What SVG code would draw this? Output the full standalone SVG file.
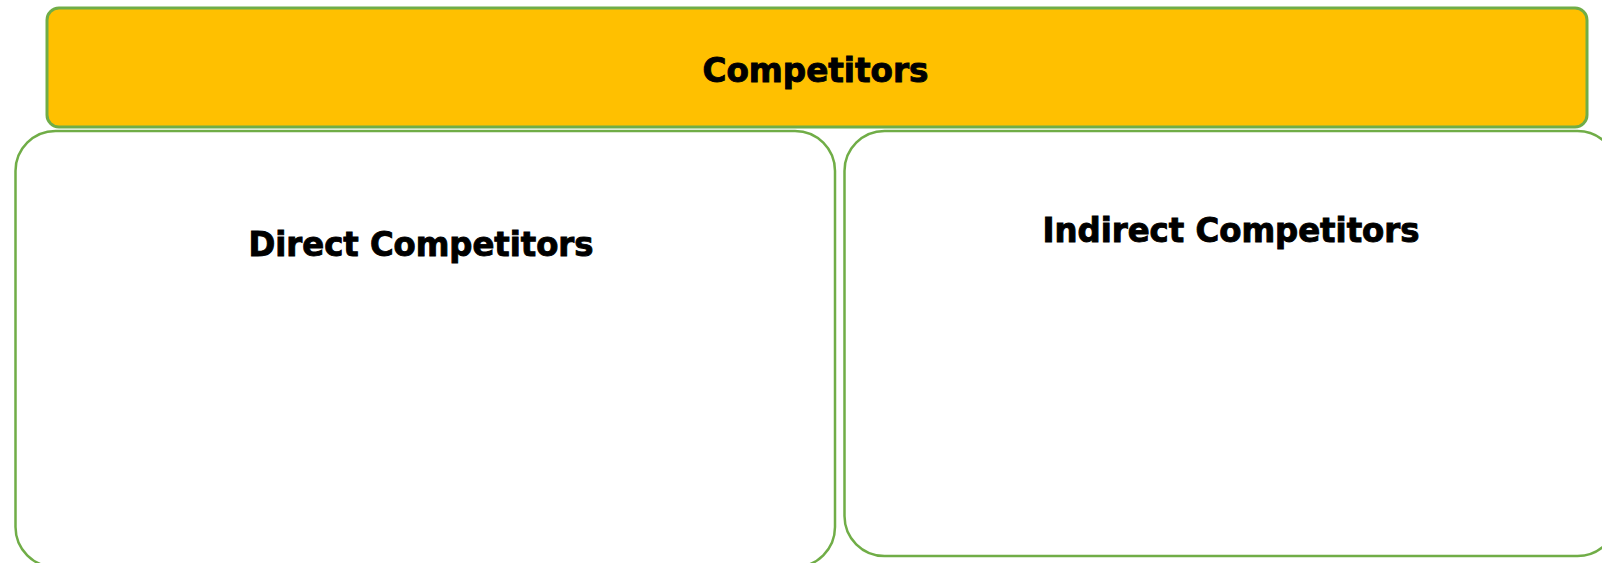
<svg xmlns="http://www.w3.org/2000/svg" width="1602" height="563" viewBox="0 0 1602 563">
<style>
.box{fill:#FFFFFF;stroke:#70AD47;stroke-width:2.5}
.top{fill:#FFC000;stroke:#70AD47;stroke-width:3}
.lbl{font-family:"DejaVu Sans Condensed","DejaVu Sans",Tahoma,sans-serif;font-weight:bold;font-size:34px;fill:#000000;stroke:#000000;stroke-width:0.9}
</style>
<rect width="1602" height="563" fill="#FFFFFF"/>
<g id="direct">
<rect class="box" x="15.5" y="131" width="819.5" height="436" rx="40" ry="40"/>
<text class="lbl" x="421" y="256" text-anchor="middle" textLength="345" lengthAdjust="spacingAndGlyphs">Direct Competitors</text>
</g>
<g id="indirect">
<rect class="box" x="844.5" y="131" width="773" height="425" rx="40" ry="40"/>
<text class="lbl" x="1231" y="242" text-anchor="middle" textLength="377" lengthAdjust="spacingAndGlyphs">Indirect Competitors</text>
</g>
<g id="competitors">
<rect class="top" x="47" y="8" width="1540" height="119" rx="12" ry="12"/>
<text class="lbl" x="815.5" y="82" text-anchor="middle" textLength="226" lengthAdjust="spacingAndGlyphs">Competitors</text>
</g>
<g id="connectors"></g>
</svg>
